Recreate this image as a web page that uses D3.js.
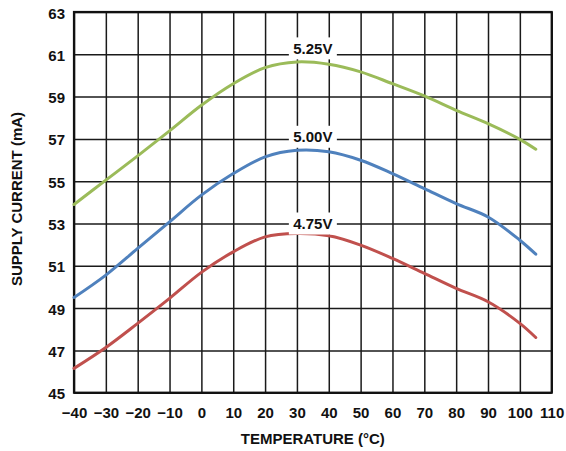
<!DOCTYPE html>
<html>
<head>
<meta charset="utf-8">
<script src="https://cdn.jsdelivr.net/npm/d3@7"></script>
<style>
  body { margin: 0; background: #fff; }
  svg { display: block; font-family: "Liberation Sans", Arial, sans-serif; font-weight: bold; }
</style>
</head>
<body>
<svg id="chart" width="566" height="451"></svg>
<script>
// temperature points (°C) and supply current (mA) for each supply voltage
const temps = [-40, -30, -20, -10, 0, 10, 20, 30, 40, 50, 60, 70, 80, 90, 100, 105];
const current525 = [53.9, 55.05, 56.2, 57.38, 58.59, 59.61, 60.37, 60.64, 60.53, 60.17, 59.61, 59.03, 58.35, 57.72, 56.98, 56.51];
const current500 = [49.5, 50.56, 51.82, 53.08, 54.34, 55.36, 56.15, 56.46, 56.39, 55.99, 55.36, 54.65, 53.94, 53.31, 52.21, 51.55];
const current475 = [46.15, 47.14, 48.28, 49.46, 50.69, 51.66, 52.37, 52.53, 52.42, 51.98, 51.35, 50.64, 49.93, 49.3, 48.28, 47.61];

const seriesNames = ["5.25V", "5.00V", "4.75V"];
const seriesColors = ["#9bbb59", "#4f81bd", "#c0504d"];
// label anchor: temperature and current at the label's centre
const labelTemp = [35, 35, 35];
const labelCurrent = [61.28, 57.1, 53.0];

const xTicks = [-40, -30, -20, -10, 0, 10, 20, 30, 40, 50, 60, 70, 80, 90, 100, 110];
const yTicks = [45, 47, 49, 51, 53, 55, 57, 59, 61, 63];

const width = 566, height = 451;
const margin = { top: 12, right: 14.3, bottom: 58.3, left: 74 };
const innerW = width - margin.left - margin.right;
const innerH = height - margin.top - margin.bottom;

const svg = d3.select("#chart");
const g = svg.append("g").attr("transform", `translate(${margin.left},${margin.top})`);

const x = d3.scaleLinear().domain([-40, 110]).range([0, innerW]);
const y = d3.scaleLinear().domain([45, 63]).range([innerH, 0]);

// grid + x tick labels
const xAxis = g.append("g")
  .attr("transform", `translate(0,${innerH})`)
  .call(d3.axisBottom(x).tickValues(xTicks).tickSize(-innerH).tickFormat(d3.format("d")));
xAxis.select(".domain").remove();
xAxis.selectAll("line").attr("stroke", "#1a1a1a").attr("stroke-width", 1.5);
xAxis.selectAll("text")
  .attr("y", 25).attr("dy", null)
  .attr("fill", "#111").style("font-size", "15px").style("font-weight", "bold");

const yAxis = g.append("g")
  .call(d3.axisLeft(y).tickValues(yTicks).tickSize(-innerW).tickFormat(d3.format("d")));
yAxis.select(".domain").remove();
yAxis.selectAll("line").attr("stroke", "#1a1a1a").attr("stroke-width", 1.5);
yAxis.selectAll("text")
  .attr("x", -9).attr("dy", "0.4em")
  .attr("fill", "#111").style("font-size", "15px").style("font-weight", "bold");

// frame
g.append("rect")
  .attr("width", innerW).attr("height", innerH)
  .attr("fill", "none").attr("stroke", "#111").attr("stroke-width", 2.2);

const allSeries = [current525, current500, current475];

const line = d3.line()
  .x((d, i) => x(temps[i]))
  .y(d => y(d))
  .curve(d3.curveCatmullRom.alpha(0.5));

g.selectAll(".curve")
  .data(allSeries)
  .join("path")
  .attr("class", "curve")
  .attr("d", line)
  .attr("fill", "none")
  .attr("stroke", (d, i) => seriesColors[i])
  .attr("stroke-width", 3)
  .attr("stroke-linecap", "round");

// voltage labels on white boxes
const labels = g.selectAll(".vlabel")
  .data(seriesNames)
  .join("g")
  .attr("class", "vlabel")
  .attr("transform", (d, i) => `translate(${x(labelTemp[i])},${y(labelCurrent[i])})`);
labels.append("rect")
  .attr("x", -24).attr("y", -11).attr("width", 48).attr("height", 22)
  .attr("fill", "#fff");
labels.append("text")
  .attr("text-anchor", "middle")
  .attr("dy", "0.36em")
  .attr("fill", "#111")
  .style("font-size", "15px")
  .text(d => d);

// axis titles
svg.append("text")
  .attr("x", margin.left + innerW / 2)
  .attr("y", 444)
  .attr("text-anchor", "middle")
  .attr("fill", "#111")
  .style("font-size", "15px")
  .text("TEMPERATURE (°C)");

svg.append("text")
  .attr("transform", "translate(22,199) rotate(-90)")
  .attr("text-anchor", "middle")
  .attr("fill", "#111")
  .style("font-size", "15px")
  .text("SUPPLY CURRENT (mA)");
</script>
</body>
</html>
